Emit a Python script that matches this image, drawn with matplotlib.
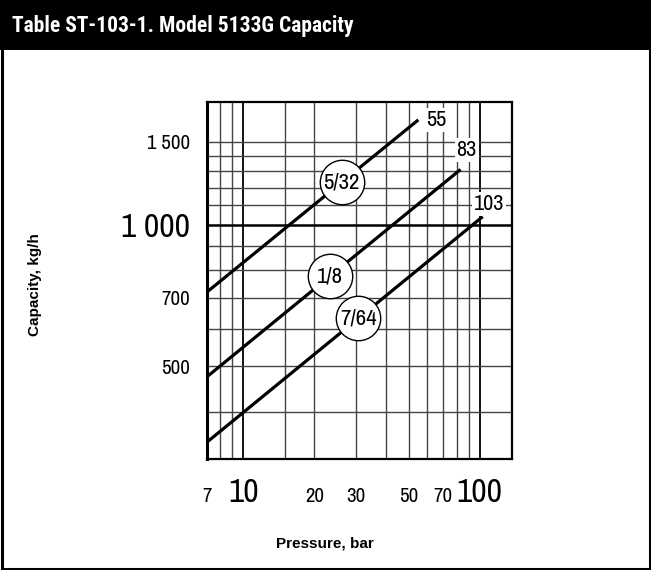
import matplotlib
matplotlib.use("Agg")
import matplotlib.pyplot as plt
import numpy as np
from matplotlib.patches import Rectangle

# ---- data ----
orifice_labels = ["5/32", "1/8", "7/64"]
end_labels = ["55", "83", "103"]
pressure_start = [7, 7, 7]
pressure_end = [55, 83, 103]
capacity_start = [719, 475, 345]
capacity_end = [1671, 1311, 1041]
circle_pressure = [26.1, 23.3, 30.7]

x_ticks = [7, 10, 20, 30, 50, 70, 100]
x_tick_labels = ["7", "10", "20", "30", "50", "70", "100"]
y_ticks = [500, 700, 1000, 1500]
y_tick_labels = ["500", "700", "1 000", "1 500"]
x_grid = [8, 9, 15, 20, 30, 40, 50, 60, 70, 80, 90]
y_grid = [400, 500, 600, 700, 800, 900, 1100, 1200, 1300, 1400, 1500]

NARROW = ["Archivo Narrow", "Roboto Condensed", "Liberation Sans", "DejaVu Sans"]
TITLEF = ["Roboto Condensed", "Archivo Narrow", "Liberation Sans", "DejaVu Sans"]
SANS = ["Liberation Sans", "DejaVu Sans"]

W, H = 651, 570
fig = plt.figure(figsize=(W / 100, H / 100), dpi=100)

# title bar and border
fig.patches.append(Rectangle((0, 1 - 50 / H), 1, 50 / H, transform=fig.transFigure,
                             facecolor="black", edgecolor="none", zorder=0))
fig.patches.append(Rectangle((1.5 / W, 1.5 / H), 1 - 3 / W, 1 - 3 / H, transform=fig.transFigure,
                             facecolor="none", edgecolor="black", linewidth=2.2, zorder=1))
fig.text(12 / W, 1 - 26 / H, "Table ST-103-1. Model 5133G Capacity", color="white",
         fontsize=15.5, fontweight="bold", family=TITLEF, ha="left", va="center")

left, right, top, bottom = 206.7, 512, 102.3, 459
ax = fig.add_axes([left / W, 1 - bottom / H, (right - left) / W, (bottom - top) / H])
ax.set_xscale("log")
ax.set_yscale("log")
ax.set_xlim(7, 137)
ax.set_ylim(318, 1821)

# grid
for xv in x_grid:
    ax.axvline(xv, color="#444444", lw=1.0, zorder=1)
for xv in [10, 100]:
    ax.axvline(xv, color="black", lw=1.3, zorder=1)
for yv in y_grid:
    ax.axhline(yv, color="#444444", lw=1.0, zorder=1)
ax.axhline(1000, color="black", lw=1.8, zorder=1)

for s in ax.spines.values():
    s.set_linewidth(1.6)
    s.set_color("black")
ax.spines["left"].set_linewidth(2.2)

# lines
for i in range(len(orifice_labels)):
    xs = [pressure_start[i], pressure_end[i]]
    ys = [capacity_start[i], capacity_end[i]]
    ax.plot(xs, ys, color="black", lw=2.3, solid_capstyle="butt", zorder=3)
    lx = np.log10(circle_pressure[i])
    t = (lx - np.log10(xs[0])) / (np.log10(xs[1]) - np.log10(xs[0]))
    cy = 10 ** (np.log10(ys[0]) + t * (np.log10(ys[1]) - np.log10(ys[0])))
    ax.plot([circle_pressure[i]], [cy], marker="o", ms=32, mfc="white", mec="black",
            mew=1.0, zorder=4)
    ax.text(circle_pressure[i], cy, orifice_labels[i], fontsize=16.5, family=NARROW,
            ha="center", va="center", zorder=5)

end_offsets = [(8, 0), (-4, 19), (-9, 13)]
for i in range(len(end_labels)):
    ax.annotate(end_labels[i], (pressure_end[i], capacity_end[i]),
                xytext=end_offsets[i], textcoords="offset pixels",
                fontsize=16, family=NARROW, ha="left", va="center", zorder=6,
                bbox=dict(facecolor="white", edgecolor="none", pad=1.5),
                annotation_clip=False)

# ticks
ax.tick_params(which="both", length=0)
ax.xaxis.set_minor_locator(matplotlib.ticker.NullLocator())
ax.yaxis.set_minor_locator(matplotlib.ticker.NullLocator())
ax.set_xticks(x_ticks)
ax.set_xticklabels(x_tick_labels, family=NARROW)
ax.set_yticks(y_ticks)
ax.set_yticklabels(y_tick_labels, family=NARROW)
ax.tick_params(axis="x", pad=31)
ax.tick_params(axis="y", pad=12)
for lbl in ax.get_xticklabels():
    lbl.set_fontsize(24 if lbl.get_text() in ("10", "100") else 15)
    lbl.set_va("baseline")
for lbl in ax.get_yticklabels():
    lbl.set_fontsize(24 if lbl.get_text() == "1 000" else 15)

fig.text(325 / W, 1 - 543 / H, "Pressure, bar", fontsize=11, fontweight="bold",
         family=SANS, ha="center", va="center")
fig.text(35 / W, 1 - 285 / H, "Capacity, kg/h", fontsize=11, fontweight="bold",
         family=SANS, ha="center", va="center", rotation=90)

fig.savefig("out.png", dpi=100)
